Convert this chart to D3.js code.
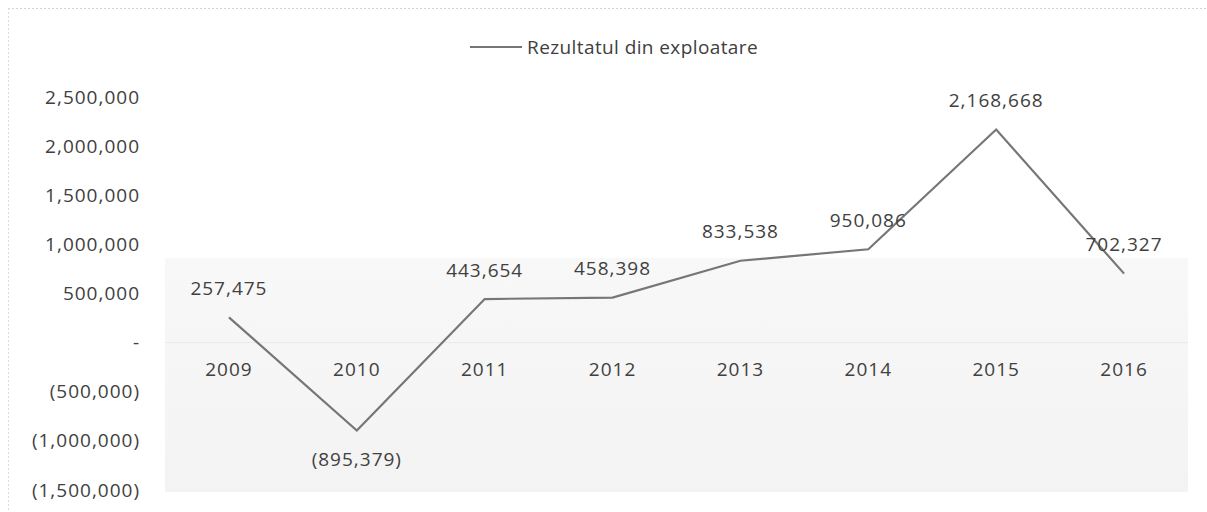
<!DOCTYPE html>
<html lang="ro">
<head>
<meta charset="UTF-8">
<title>Rezultatul din exploatare</title>
<script src="https://d3js.org/d3.v7.min.js"></script>
<style>
  body { margin: 0; background: #fff; }
  text { font-family: "Open Sans", "Liberation Sans", sans-serif; fill: #404040; }
</style>
</head>
<body>
<svg class="chart"></svg>
<script>
// data
const years = ["2009", "2010", "2011", "2012", "2013", "2014", "2015", "2016"];
const values = [257475, -895379, 443654, 458398, 833538, 950086, 2168668, 702327];
const yTicks = [2500000, 2000000, 1500000, 1000000, 500000, 0, -500000, -1000000, -1500000];
const seriesName = "Rezultatul din exploatare";

const W = 1207, H = 512;
const svg = d3.select(".chart").attr("width", W).attr("height", H);

// chart frame (dotted, faded from the scan)
svg.append("line").attr("x1", 8).attr("x2", W).attr("y1", 8.5).attr("y2", 8.5)
  .attr("stroke", "#d4d4d4").attr("stroke-dasharray", "2,2");
svg.append("line").attr("x1", 8.5).attr("x2", 8.5).attr("y1", 8).attr("y2", H)
  .attr("stroke", "#dcdcdc").attr("stroke-dasharray", "2,2");

const x = d3.scaleBand().domain(years).range([165, 1188]);
const y = d3.scaleLinear().domain([-1500000, 2500000]).range([490, 97]);

// faint plot background as in the scan
const bg = svg.append("defs").append("linearGradient")
  .attr("id", "bg").attr("x1", 0).attr("x2", 0).attr("y1", 0).attr("y2", 1);
bg.append("stop").attr("offset", "0%").attr("stop-color", "#f8f8f8");
bg.append("stop").attr("offset", "100%").attr("stop-color", "#f3f3f3");
svg.append("rect")
  .attr("x", 165).attr("y", 258).attr("width", 1188 - 165).attr("height", 492 - 258)
  .attr("fill", "url(#bg)");
svg.append("line")
  .attr("x1", 165).attr("x2", 1188).attr("y1", y(0)).attr("y2", y(0))
  .attr("stroke", "#eaeaea");

// accounting style format
const fmt = v => v === 0 ? "-" : v < 0 ? `(${d3.format(",")(-v)})` : d3.format(",")(v);

// y axis labels
const yAxis = d3.axisLeft(y).tickValues(yTicks).tickFormat(fmt).tickSize(0).tickPadding(0);
const gy = svg.append("g").attr("transform", "translate(140,0)").call(yAxis);
gy.select(".domain").remove();
gy.selectAll("text").attr("font-size", 19).attr("font-family", null).attr("letter-spacing", 1);

// category labels next to the zero line
const xAxis = d3.axisBottom(x).tickSize(0).tickPadding(0);
const gx = svg.append("g").attr("transform", `translate(0,${y(0) + 20})`).call(xAxis);
gx.select(".domain").remove();
gx.selectAll("text").attr("font-size", 19).attr("font-family", null).attr("letter-spacing", 1);

// line
const cx = d => x(d) + x.bandwidth() / 2;
const line = d3.line().x((d, i) => cx(years[i])).y(d => y(d));
svg.append("path").datum(values)
  .attr("d", line)
  .attr("fill", "none")
  .attr("stroke", "#767676")
  .attr("stroke-width", 2.2);

// data labels
svg.selectAll(".dl").data(values).join("text")
  .attr("class", "dl")
  .attr("x", (d, i) => cx(years[i]))
  .attr("y", d => d < 0 ? y(d) + 29 : y(d) - 29)
  .attr("dy", "0.35em")
  .attr("text-anchor", "middle")
  .attr("font-size", 19)
  .attr("letter-spacing", 1)
  .text(fmt);

// legend
svg.append("line").attr("x1", 470).attr("x2", 522).attr("y1", 47).attr("y2", 47)
  .attr("stroke", "#767676").attr("stroke-width", 2.2);
svg.append("text").attr("x", 527).attr("y", 47).attr("dy", "0.35em")
  .attr("font-size", 19).attr("letter-spacing", 0.4).text(seriesName);
</script>
</body>
</html>
